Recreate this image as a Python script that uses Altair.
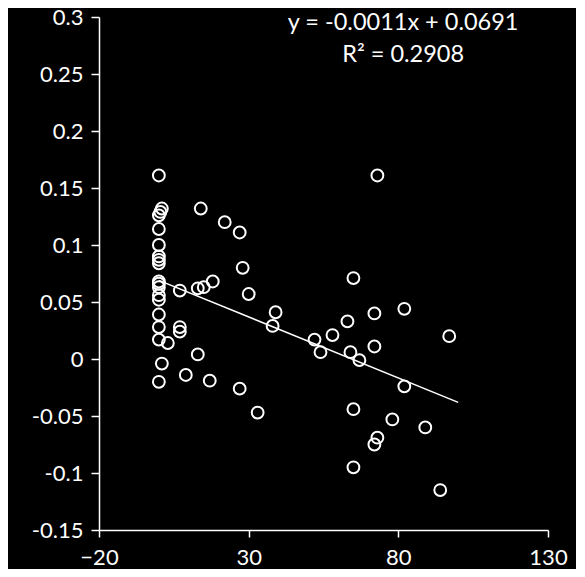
import altair as alt
import pandas as pd

# Scatter values
x_vals = [0, 1, 0.5, 0, 0, 0, 0, 0, 0, 0, 0, 0, 0, 0, 0, 0, 0, 3, 1, 0,
          7, 7, 7, 13, 9, 17, 27, 14, 22, 27, 28, 18, 15, 13, 30, 39, 38, 33,
          52, 54, 58, 63, 64, 67, 72, 72, 82, 97, 82, 65, 78, 89, 73, 72, 65, 94,
          73, 65]
y_vals = [0.161, 0.132, 0.129, 0.126, 0.114, 0.100, 0.090, 0.087, 0.084, 0.068,
          0.066, 0.063, 0.056, 0.052, 0.039, 0.028, 0.017, 0.014, -0.004, -0.020,
          0.060, 0.028, 0.024, 0.004, -0.014, -0.019, -0.026, 0.132, 0.120, 0.111,
          0.080, 0.068, 0.063, 0.062, 0.057, 0.041, 0.029, -0.047,
          0.017, 0.006, 0.021, 0.033, 0.006, -0.001, 0.040, 0.011, 0.044, 0.020,
          -0.024, -0.044, -0.053, -0.060, -0.069, -0.075, -0.095, -0.115,
          0.161, 0.071]

# Linear trendline endpoints (as drawn)
trend_x = [0, 100]
trend_y = [0.069, -0.038]

# Annotation
ann_text = ["y = -0.0011x + 0.0691", "R² = 0.2908"]
ann_x = [81.6, 81.6]
ann_y = [0.295, 0.267]

x_ticks = [-20, 30, 80, 130]
y_ticks = [-0.15, -0.1, -0.05, 0, 0.05, 0.1, 0.15, 0.2, 0.25, 0.3]

pts = pd.DataFrame({"x": x_vals, "y": y_vals})
trend = pd.DataFrame({"x": trend_x, "y": trend_y})
ann = pd.DataFrame({"x": ann_x, "y": ann_y, "t": ann_text})

FONT = "Lato"
FS = 22

xscale = alt.Scale(domain=[-20, 130], nice=False, zero=False)
yscale = alt.Scale(domain=[-0.15, 0.3], nice=False, zero=False)

xaxis = alt.Axis(values=x_ticks, title=None, grid=False, tickSize=7,
                 labelPadding=10, labelFlush=False)
yaxis = alt.Axis(values=y_ticks, title=None, grid=False, tickSize=8,
                 labelPadding=8, format="~g",
                 labelExpr="replace(datum.label, '\u2212', '-')")

points = alt.Chart(pts).mark_point(
    shape="circle", filled=False, color="white", size=140, strokeWidth=2, opacity=1
).encode(
    x=alt.X("x:Q", scale=xscale, axis=xaxis),
    y=alt.Y("y:Q", scale=yscale, axis=yaxis),
)

line = alt.Chart(trend).mark_line(color="white", strokeWidth=1.5).encode(
    x=alt.X("x:Q", scale=xscale),
    y=alt.Y("y:Q", scale=yscale),
)

text = alt.Chart(ann).mark_text(
    color="white", font=FONT, fontSize=23.5, align="center", baseline="middle"
).encode(
    x=alt.X("x:Q", scale=xscale),
    y=alt.Y("y:Q", scale=yscale),
    text="t:N",
)

chart = alt.layer(line, points, text).properties(
    width=449,
    height=513,
    background="black",
    padding={"left": 91, "top": 9, "right": 28, "bottom": 39},
    autosize=alt.AutoSizeParams(type="none"),
).configure_view(
    stroke=None
).configure_axis(
    domainColor="white",
    tickColor="white",
    labelColor="white",
    labelFont=FONT,
    labelFontSize=FS,
    domainWidth=1.5,
    tickWidth=1.5,
)

chart.save("out.html", embed_options={"renderer": "svg", "actions": False})
